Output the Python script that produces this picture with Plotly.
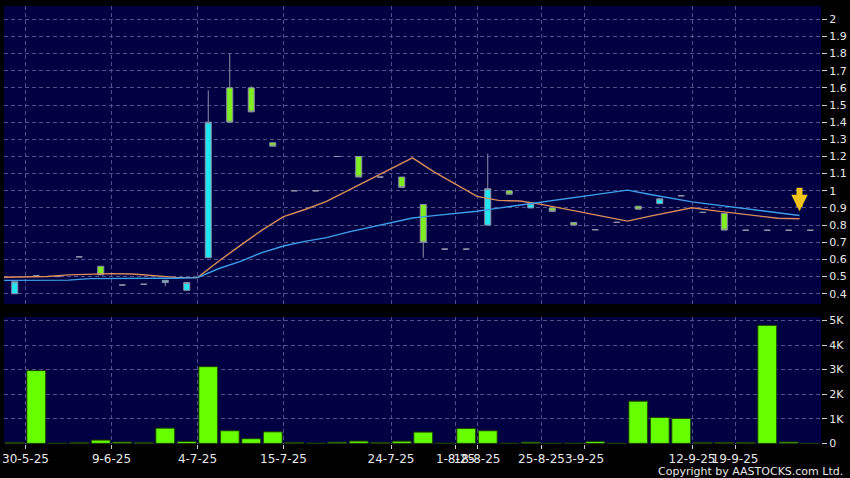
import plotly.graph_objects as go

# ---------------- data ----------------
bar_index = list(range(38))

opens  = [0.40, 0.505, 0.50, 0.615, 0.56, 0.451, 0.455, 0.465, 0.42, 0.61,
          1.60, 1.60, 1.28, 1.00, 1.00, 1.20, 1.20, 1.08, 1.08, 0.92,
          0.66, 0.66, 0.80, 1.00, 0.90, 0.90, 0.815, 0.773, 0.816, 0.91,
          0.925, 0.971, 0.874, 0.868, 0.77, 0.77, 0.77, 0.77]
highs  = [0.47, 0.505, 0.50, 0.615, 0.56, 0.451, 0.455, 0.478, 0.465, 1.585,
          1.80, 1.61, 1.28, 1.00, 1.00, 1.20, 1.20, 1.08, 1.08, 0.92,
          0.66, 0.66, 1.217, 1.00, 0.926, 0.90, 0.815, 0.773, 0.816, 0.91,
          0.953, 0.971, 0.874, 0.868, 0.77, 0.77, 0.77, 0.77]
lows   = [0.40, 0.505, 0.50, 0.615, 0.51, 0.451, 0.455, 0.445, 0.42, 0.61,
          1.40, 1.46, 1.26, 1.00, 1.00, 1.20, 1.08, 1.08, 1.02, 0.61,
          0.66, 0.66, 0.80, 0.98, 0.90, 0.88, 0.80, 0.773, 0.816, 0.893,
          0.924, 0.971, 0.874, 0.771, 0.77, 0.77, 0.77, 0.77]
closes = [0.47, 0.505, 0.50, 0.615, 0.51, 0.451, 0.455, 0.478, 0.465, 1.40,
          1.40, 1.46, 1.26, 1.00, 1.00, 1.20, 1.08, 1.08, 1.02, 0.70,
          0.66, 0.66, 1.012, 0.98, 0.926, 0.88, 0.80, 0.773, 0.816, 0.893,
          0.953, 0.971, 0.874, 0.771, 0.77, 0.77, 0.77, 0.77]

ma_short = [0.496, 0.497, 0.500, 0.510, 0.515, 0.517, 0.515, 0.505, 0.495, 0.494,
            0.591, 0.682, 0.771, 0.849, 0.891, 0.938, 1.002, 1.066, 1.131, 1.192,
            1.110, 1.038, 0.967, 0.944, 0.940, 0.921, 0.896, 0.872, 0.847, 0.823,
            0.851, 0.876, 0.901, 0.884, 0.868, 0.852, 0.840, 0.837]
ma_long  = [0.478, 0.478, 0.478, 0.479, 0.488, 0.490, 0.490, 0.490, 0.490, 0.494,
            0.547, 0.589, 0.640, 0.678, 0.705, 0.727, 0.759, 0.785, 0.814, 0.841,
            0.855, 0.868, 0.881, 0.899, 0.917, 0.936, 0.953, 0.970, 0.987, 1.004,
            0.980, 0.957, 0.935, 0.919, 0.903, 0.888, 0.872, 0.856]

volumes = [40, 2960, 10, 40, 135, 55, 40, 620, 80, 3120,
           515, 190, 470, 40, 10, 50, 95, 40, 90, 460,
           10, 610, 515, 5, 50, 10, 10, 80, 5, 1716,
           1054, 1013, 40, 40, 40, 4800, 55, 0]

tick_index = [1, 5, 9, 13, 18, 21, 22, 25, 27, 32, 34]
tick_labels = ["30-5-25", "9-6-25", "4-7-25", "15-7-25", "24-7-25", "1-8-25",
               "18-8-25", "25-8-25", "3-9-25", "12-9-25", "19-9-25"]

price_ticks = [0.4, 0.5, 0.6, 0.7, 0.8, 0.9, 1.0, 1.1, 1.2, 1.3, 1.4, 1.5,
               1.6, 1.7, 1.8, 1.9, 2.0]
vol_ticks = [0, 1000, 2000, 3000, 4000, 5000]
vol_labels = ["0", "1K", "2K", "3K", "4K", "5K"]

# ---------------- styling ----------------
NAVY = "#000042"
GRID = "#50508a"
TXT = "#e8e8e8"
FONT = "DejaVu Sans"
DASH = "4px,3px"

ma_x = [i - 0.5 for i in bar_index]
grid_x = [i - 0.5 for i in tick_index]

fig = go.Figure()

fig.add_trace(go.Candlestick(
    x=bar_index, open=opens, high=highs, low=lows, close=closes,
    increasing=dict(fillcolor="#20e6f2", line=dict(color="#9090a6", width=1)),
    decreasing=dict(fillcolor="#7def1e", line=dict(color="#9090a6", width=1)),
    whiskerwidth=0, xaxis="x", yaxis="y", showlegend=False, hoverinfo="skip"))

fig.add_trace(go.Scatter(x=ma_x, y=ma_short, mode="lines",
                         line=dict(color="#dc8c5c", width=1.4),
                         xaxis="x", yaxis="y", showlegend=False, hoverinfo="skip"))
fig.add_trace(go.Scatter(x=ma_x, y=ma_long, mode="lines",
                         line=dict(color="#3d9fe8", width=1.4),
                         xaxis="x", yaxis="y", showlegend=False, hoverinfo="skip"))

fig.add_trace(go.Bar(x=bar_index, y=volumes, width=0.88,
                     marker=dict(color="#66ff00", line=dict(color="#1c3a00", width=1)),
                     xaxis="x2", yaxis="y2", showlegend=False, hoverinfo="skip"))

# yellow arrow at the last moving-average point
fig.add_annotation(x=ma_x[-1], y=max(ma_short[-1], ma_long[-1]) + 0.025,
                   xref="x", yref="y", text="", showarrow=True,
                   ax=0, ay=-25, arrowhead=2, arrowsize=0.55, arrowwidth=6,
                   arrowcolor="#f2c318")

fig.add_annotation(x=1.029, y=-0.062, xref="paper", yref="paper",
                   xanchor="right", yanchor="middle", showarrow=False,
                   text="Copyright by AASTOCKS.com Ltd.",
                   font=dict(family=FONT, size=11, color=TXT))

xcommon = dict(range=[-0.5, 37.5], tickmode="array", tickvals=grid_x,
               showgrid=True, gridcolor=GRID, griddash=DASH, gridwidth=1,
               zeroline=False, showline=False, automargin=False,
               rangeslider=dict(visible=False))

fig.update_layout(
    width=850, height=478,
    margin=dict(l=4, r=29, t=6, b=34, autoexpand=False),
    paper_bgcolor="#000000", plot_bgcolor=NAVY,
    boxgap=0.72, boxgroupgap=0, bargap=0,
    font=dict(family=FONT, size=11, color=TXT),
    xaxis=dict(**xcommon, domain=[0, 1], anchor="y", showticklabels=False,
               ticks="", matches="x2"),
    xaxis2=dict(**xcommon, domain=[0, 1], anchor="y2", ticktext=tick_labels,
                ticks="outside", ticklen=4, tickcolor="#cccccc", tickangle=0,
                tickfont=dict(family=FONT, size=12, color=TXT)),
    yaxis=dict(domain=[0.3196, 1.0], range=[0.34, 2.077], side="right",
               tickmode="array", tickvals=price_ticks,
               ticktext=[f"{v:g}" for v in price_ticks], automargin=False,
               showgrid=True, gridcolor=GRID, griddash=DASH, zeroline=False,
               ticks="outside", ticklen=5, tickcolor="#cccccc",
               tickfont=dict(family=FONT, size=11, color=TXT), anchor="x"),
    yaxis2=dict(domain=[0, 0.290], range=[-25, 5140], side="right",
                tickmode="array", tickvals=vol_ticks, ticktext=vol_labels,
                automargin=False,
                showgrid=True, gridcolor=GRID, griddash=DASH, zeroline=False,
                ticks="outside", ticklen=5, tickcolor="#cccccc",
                tickfont=dict(family=FONT, size=11, color=TXT), anchor="x2"),
)

fig.write_html("out.html",
               config={"displayModeBar": False, "staticPlot": True},
               post_script="document.body.style.margin='0px';"
                           "document.body.style.background='#000000';")
